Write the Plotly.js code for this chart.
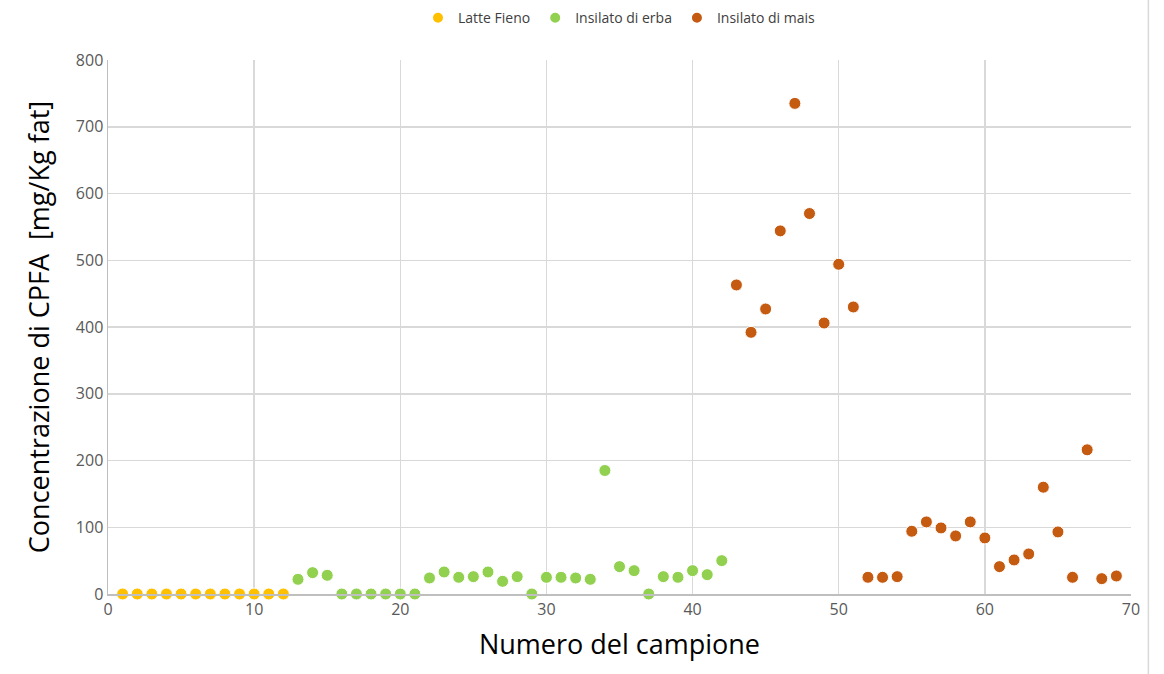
<!DOCTYPE html>
<html>
<head>
<meta charset="utf-8">
<script src="https://cdn.plot.ly/plotly-3.0.1.min.js"></script>
<style>html,body{margin:0;padding:0;background:#fff;}#chart{width:1164px;height:674px;}</style>
</head>
<body>
<div id="chart"></div>
<script>
const fienoX = [1,2,3,4,5,6,7,8,9,10,11,12];
const fienoY = [0,0,0,0,0,0,0,0,0,0,0,0];
const erbaX = [13,14,15,16,17,18,19,20,21,22,23,24,25,26,27,28,29,30,31,32,33,34,35,36,37,38,39,40,41,42];
const erbaY = [22,32,28,0,0,0,0,0,0,24,33,25,26,33,19,26,0,25,25,24,22,185,41,35,0,26,25,35,29,50];
const maisX = [43,44,45,46,47,48,49,50,51,52,53,54,55,56,57,58,59,60,61,62,63,64,65,66,67,68,69];
const maisY = [463,392,427,544,735,570,406,494,430,25,25,26,94,108,99,87,108,84,41,51,60,160,93,25,216,23,27];

const mk = (c) => ({color: c, size: 12, line: {color: '#ffffff', width: 1}});
const traces = [
  {x: fienoX, y: fienoY, name: 'Latte Fieno', type: 'scatter', mode: 'markers', marker: mk('#FFC000'), cliponaxis: false},
  {x: erbaX, y: erbaY, name: 'Insilato di erba', type: 'scatter', mode: 'markers', marker: mk('#92D050'), cliponaxis: false},
  {x: maisX, y: maisY, name: 'Insilato di mais', type: 'scatter', mode: 'markers', marker: mk('#C55A11'), cliponaxis: false}
];
const font = 'Open Sans, Liberation Sans, Arial, sans-serif';
const layout = {
  width: 1164, height: 674,
  margin: {l: 108, r: 33, t: 60, b: 80},
  paper_bgcolor: '#fff', plot_bgcolor: '#fff',
  font: {family: font, color: '#595959', size: 15},
  showlegend: true,
  legend: {orientation: 'h', x: 0.5, xanchor: 'center', y: 0.973, yanchor: 'middle', yref: 'container', font: {size: 14, color: '#404040'}, itemsizing: 'constant', traceorder: 'normal', itemwidth: 30},
  xaxis: {
    range: [0, 70], dtick: 10, tick0: 0, showgrid: true, gridcolor: '#d9d9d9', gridwidth: 1.5,
    zeroline: false, showline: true, linecolor: '#bfbfbf', linewidth: 1.5, ticks: '',
    tickfont: {size: 16, color: '#595959'},
    title: {text: 'Numero del campione', font: {size: 27, color: '#000'}, standoff: 16}
  },
  yaxis: {
    range: [0, 800], dtick: 100, tick0: 0, showgrid: true, gridcolor: '#d9d9d9', gridwidth: 1.5,
    zeroline: false, showline: true, linecolor: '#bfbfbf', linewidth: 1.5, ticks: '',
    tickfont: {size: 16, color: '#595959'},
    title: {text: 'Concentrazione di CPFA  [mg/Kg fat]', font: {size: 27, color: '#000'}, standoff: 18}
  },
  shapes: [
    {type: 'line', xref: 'paper', yref: 'paper', x0: 1.017, x1: 1.017, y0: -0.15, y1: 1.12, line: {color: '#d9d9d9', width: 1.5}}
  ]
};
Plotly.newPlot('chart', traces, layout, {displayModeBar: false, staticPlot: true});
</script>
</body>
</html>
